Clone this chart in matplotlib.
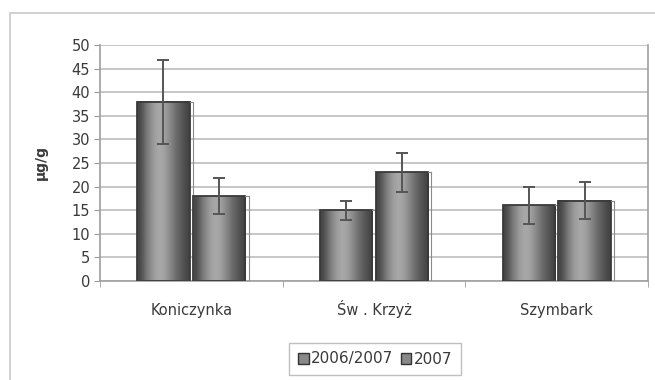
import numpy as np
import matplotlib.pyplot as plt
from matplotlib.patches import Rectangle
import matplotlib.transforms as mtrans

plt.rcParams['font.family'] = ['DejaVu Sans']

# data
sites = ['Koniczynka', 'Św . Krzyż', 'Szymbark']
series = ['2006/2007', '2007']
vals_0607 = [38, 15, 16]
vals_07 = [18, 23, 17]
err_0607 = [8.9, 2.0, 4.0]
err_07 = [3.8, 4.1, 3.9]
yticks = list(range(0, 55, 5))

txtcol = '#3a3a3a'

fig = plt.figure(figsize=(6.55, 3.8), dpi=100)
# outer chart frame
fig.patches.append(Rectangle((10 / 655, -0.1), 2, 1.1 - 13 / 380, transform=fig.transFigure,
                             fill=False, edgecolor='#c8c8c8', lw=1.2))

ax = fig.add_axes([100 / 655, 1 - 281 / 380, 548 / 655, 236 / 380])

# cylinder-like gray shading for bars
prof = np.array([0.25, 0.33, 0.45, 0.55, 0.62, 0.66, 0.64, 0.58, 0.5, 0.42, 0.36, 0.3, 0.26])
grad = np.interp(np.linspace(0, 1, 60), np.linspace(0, 1, len(prof)), prof)[None, :]

w = 0.285
x = np.arange(len(sites))
for vals, errs, off in [(vals_0607, err_0607, -w / 2 - 0.01), (vals_07, err_07, w / 2 + 0.01)]:
    for xi, v, e in zip(x + off, vals, errs):
        ax.imshow(grad, cmap='gray', vmin=0, vmax=1, aspect='auto', interpolation='bilinear',
                  extent=(xi - w / 2, xi + w / 2, 0, v), zorder=2)
        ax.add_patch(Rectangle((xi - w / 2, 0), w, v, fill=False, edgecolor='#3a3a3a', lw=1.3, zorder=3))
        ax.plot([xi + w / 2 + 0.018] * 2, [0, v], color='#8a8a8a', lw=0.8, zorder=3)
        ax.plot([xi + w / 2, xi + w / 2 + 0.018], [v, v], color='#8a8a8a', lw=0.8, zorder=3)
    ax.errorbar(x + off, vals, yerr=errs, fmt='none', ecolor='#555555', elinewidth=1.4,
                capsize=4, capthick=1.4, zorder=4)

ax.set_xlim(-0.5, 2.5)
ax.set_ylim(0, 50)
ax.set_yticks(yticks)
ax.set_xticks([])
ax.set_xticks([-0.5, 0.5, 1.5, 2.5], minor=True)
ax.tick_params(axis='x', which='minor', length=4, color='#999999', direction='out')
ax.tick_params(axis='y', length=4, color='#999999', labelsize=10.5, labelcolor=txtcol, pad=3)

# category labels, baseline aligned
trans = mtrans.blended_transform_factory(ax.transData, ax.transAxes)
for xi, name in zip(x, sites):
    ax.text(xi, -0.145, name, transform=trans, ha='center', va='baseline', fontsize=10.5, color=txtcol)

ax.grid(axis='y', color='#bdbdbd', lw=1.2, zorder=0)
ax.set_axisbelow(True)
ax.spines['top'].set_visible(False)
for s in ['left', 'bottom', 'right']:
    ax.spines[s].set_color('#a0a0a0')
    ax.spines[s].set_linewidth(1.2)
ax.set_ylabel('µg/g', fontsize=10, fontweight='bold', color=txtcol, labelpad=17)

handles = [Rectangle((0, 0), 1, 1, facecolor='#888888', edgecolor='#333333', lw=1) for _ in series]
leg = fig.legend(handles, series, loc='center', bbox_to_anchor=(375 / 655, 1 - 359 / 380), ncol=2,
                 fontsize=11, frameon=True, fancybox=False, edgecolor='#b0b0b0',
                 handlelength=0.7, handleheight=0.7, handletextpad=0.15, columnspacing=0.5,
                 borderpad=0.55)
for t in leg.get_texts():
    t.set_color(txtcol)

fig.savefig('out.png', dpi=100)
